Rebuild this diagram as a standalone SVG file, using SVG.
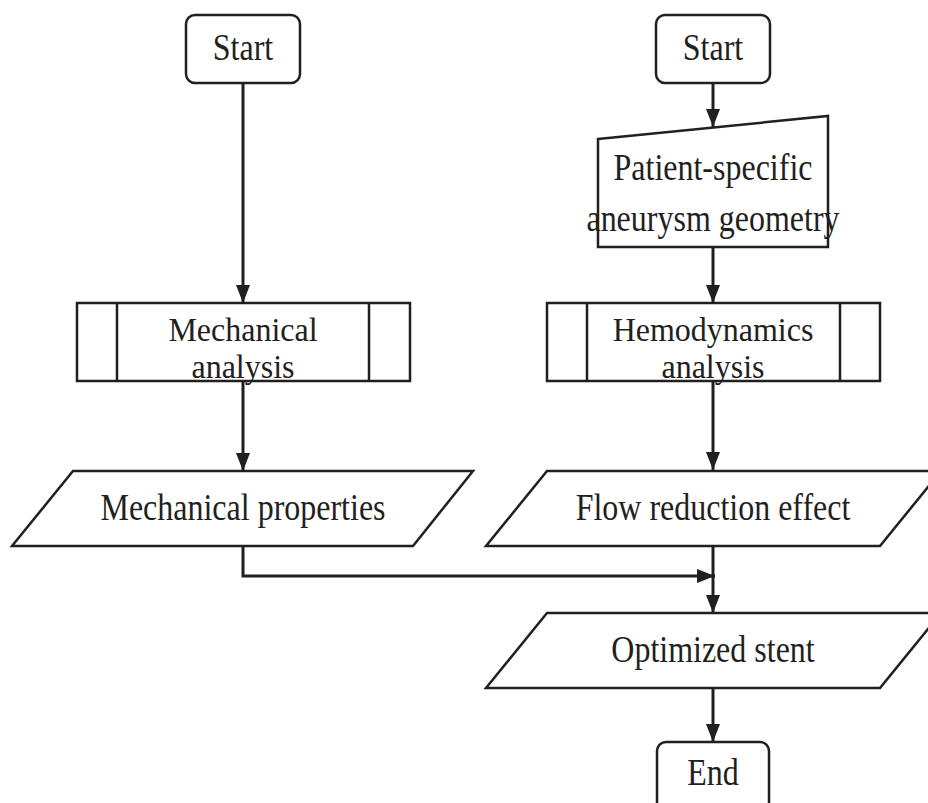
<svg xmlns="http://www.w3.org/2000/svg" width="928" height="803" viewBox="0 0 928 803">
<defs>
<style>
.shape{fill:#fff;stroke:#231f20;stroke-width:2.5;stroke-linejoin:miter}
.conn{fill:none;stroke:#231f20;stroke-width:3}
.lbl{font-family:"Liberation Serif","Times New Roman",serif;font-size:32px;fill:#231f20;text-anchor:middle}
</style>
<marker id="arr" markerUnits="userSpaceOnUse" markerWidth="18" markerHeight="18" viewBox="0 0 18 18" refX="18" refY="9" orient="auto">
<path d="M0,2 L18,9 L0,16 Z" fill="#231f20"/>
</marker>
</defs>
<rect width="928" height="803" fill="#fff"/>
<g id="connectors">
<path class="conn" d="M243,83 V303" marker-end="url(#arr)"/>
<path class="conn" d="M243,381 V471" marker-end="url(#arr)"/>
<path class="conn" d="M243,546 V576 H715" marker-end="url(#arr)"/>
<path class="conn" d="M713,83 V127" marker-end="url(#arr)"/>
<path class="conn" d="M713,247 V303" marker-end="url(#arr)"/>
<path class="conn" d="M713,381 V470" marker-end="url(#arr)"/>
<path class="conn" d="M713,546 V613" marker-end="url(#arr)"/>
<path class="conn" d="M713,688 V742" marker-end="url(#arr)"/>
</g>
<g id="start-left">
<rect class="shape" x="186" y="15" width="114" height="68" rx="9"/>
<text class="lbl" transform="translate(243,60) scale(1,1.2)">Start</text>
</g>
<g id="start-right">
<rect class="shape" x="656" y="15" width="114" height="68" rx="9"/>
<text class="lbl" transform="translate(713,60) scale(1,1.2)">Start</text>
</g>
<g id="geometry">
<path class="shape" d="M598,139 L828,116 L828,247 L598,247 Z"/>
<text class="lbl" transform="translate(713,180) scale(1,1.2)"><tspan x="0" y="0">Patient-specific</tspan><tspan x="0" y="42.5">aneurysm geometry</tspan></text>
</g>
<g id="mech-analysis">
<rect class="shape" x="77" y="303" width="333" height="78"/>
<path class="shape" d="M117,303 V381 M369,303 V381"/>
<text class="lbl" transform="translate(243,341) scale(1,1.03)"><tspan x="0" y="0">Mechanical</tspan><tspan x="0" y="36">analysis</tspan></text>
</g>
<g id="hemo-analysis">
<rect class="shape" x="547" y="303" width="333" height="78"/>
<path class="shape" d="M587,303 V381 M840,303 V381"/>
<text class="lbl" transform="translate(713,341) scale(1,1.03)"><tspan x="0" y="0">Hemodynamics</tspan><tspan x="0" y="36">analysis</tspan></text>
</g>
<g id="mech-props">
<path class="shape" d="M73,471 L473,471 L413,546 L12,546 Z"/>
<text class="lbl" transform="translate(243,520) scale(1,1.2)">Mechanical properties</text>
</g>
<g id="flow-effect">
<path class="shape" d="M547,471 L941,471 L880,546 L486,546 Z"/>
<text class="lbl" transform="translate(713,520) scale(1,1.2)">Flow reduction effect</text>
</g>
<g id="opt-stent">
<path class="shape" d="M547,613 L941,613 L880,688 L486,688 Z"/>
<text class="lbl" transform="translate(713,662) scale(1,1.2)">Optimized stent</text>
</g>
<g id="end">
<rect class="shape" x="657" y="742" width="112" height="90" rx="9"/>
<text class="lbl" transform="translate(713,785) scale(1,1.2)">End</text>
</g>
</svg>
